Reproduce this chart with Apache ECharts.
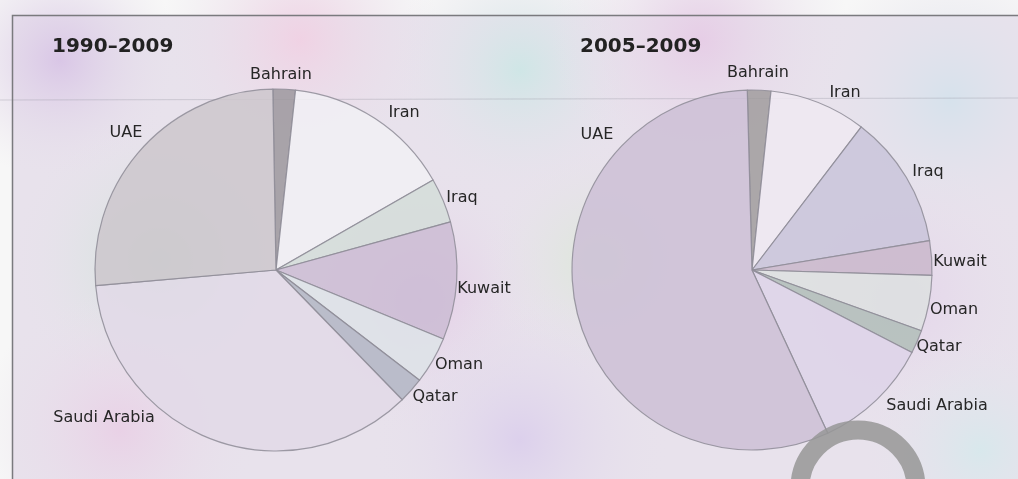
<!DOCTYPE html>
<html>
<head>
<meta charset="utf-8">
<script src="https://cdn.jsdelivr.net/npm/echarts@6/dist/echarts.min.js"></script>
<style>
html,body{margin:0;padding:0;background:#f7f7f7;}
#chart{width:1018px;height:479px;}
</style>
</head>
<body>
<div id="chart"></div>
<script>
// Countries (clockwise from 12 o'clock)
const countries = ['Bahrain', 'Iran', 'Iraq', 'Kuwait', 'Oman', 'Qatar', 'Saudi Arabia', 'UAE'];
// Shares (%)
const share1990_2009 = [2.0, 15.0, 4.0, 10.5, 4.2, 2.3, 35.9, 26.1];
const share2005_2009 = [2.1, 8.7, 12.0, 3.1, 5.0, 2.1, 10.5, 56.5];
const titles = ['1990–2009', '2005–2009'];

// styling (not data)
const colorsLeft  = ['#9c989e', '#f1f0f4', '#d3ddd9', '#cbbcd4', '#dde3e8', '#b2b6c4', '#e2d9e8', '#cdc7cc'];
const colorsRight = ['#a09c9e', '#efe9f2', '#c9c4da', '#c9b7cb', '#dde1e0', '#b0bdb8', '#ddd4e9', '#cdbfd6'];
const labelPosLeft = {
  'Bahrain': [281, 75], 'Iran': [404, 113], 'Iraq': [462, 198], 'Kuwait': [484, 289],
  'Oman': [459, 365], 'Qatar': [435, 397], 'Saudi Arabia': [104, 418], 'UAE': [126, 133]
};
const labelPosRight = {
  'Bahrain': [758, 73], 'Iran': [845, 93], 'Iraq': [928, 172], 'Kuwait': [960, 262],
  'Oman': [954, 310], 'Qatar': [939, 347], 'Saudi Arabia': [937, 406], 'UAE': [597, 135]
};

function makeData(values, colors) {
  return countries.map((c, i) => ({ name: c, value: values[i], itemStyle: { color: colors[i] } }));
}

function pieSeries(values, colors, center, radius, startAngle, labelPos) {
  return {
    type: 'pie',
    center: center,
    radius: radius,
    startAngle: startAngle,
    clockwise: true,
    silent: true,
    z: 2,
    itemStyle: { borderColor: '#8e8c96', borderWidth: 1.2, opacity: 0.85 },
    label: {
      show: true,
      position: 'outside',
      alignTo: 'none',
      overflow: 'none',
      width: 200,
      opacity: 1,
      color: '#262626',
      fontFamily: 'DejaVu Sans',
      fontSize: 16
    },
    labelLine: { show: false },
    labelLayout: function (p) {
      const pos = labelPos[countries[p.dataIndex]];
      return { x: pos[0], y: pos[1], align: 'center', verticalAlign: 'middle', hideOverlap: false, width: 200 };
    },
    data: makeData(values, colors)
  };
}

const chart = echarts.init(document.getElementById('chart'), null, { renderer: 'canvas' });

const blobs = [
  [60, 60, 120, '#d9c6e6'], [300, 40, 140, '#f0d2e4'], [520, 70, 130, '#cfe6e6'],
  [700, 40, 150, '#e6cde6'], [950, 100, 140, '#d6e2ec'], [160, 260, 150, '#cfe4d8'],
  [420, 300, 140, '#e4cbe6'], [600, 260, 120, '#dce8d8'], [900, 300, 150, '#e4d4ea'],
  [120, 430, 140, '#e9d1e6'], [520, 440, 150, '#dcd0ec'], [980, 450, 120, '#d8e8ec']
];

const option = {
  backgroundColor: '#f7f7f7',
  animation: false,
  title: [
    { text: titles[0], left: 52, top: 37, padding: 0,
      textStyle: { fontFamily: 'DejaVu Sans', fontWeight: 'bold', fontSize: 20, color: '#222' } },
    { text: titles[1], left: 580, top: 37, padding: 0,
      textStyle: { fontFamily: 'DejaVu Sans', fontWeight: 'bold', fontSize: 20, color: '#222' } }
  ],
  graphic: {
    elements: [
      { type: 'rect', silent: true, z: -20, shape: { x: 12, y: 15, width: 1010, height: 470 },
        style: { fill: '#e8e2ec', stroke: null } }
    ].concat(blobs.map(b => ({
      type: 'circle', silent: true, z: -19, shape: { cx: b[0], cy: b[1], r: b[2] },
      style: {
        fill: { type: 'radial', x: 0.5, y: 0.5, r: 0.5,
          colorStops: [{ offset: 0, color: b[3] }, { offset: 1, color: 'rgba(232,226,236,0)' }] }
      }
    }))).concat([
      { type: 'line', silent: true, z: -18, shape: { x1: 0, y1: 100, x2: 1018, y2: 98 },
        style: { stroke: 'rgba(150,150,160,0.35)', lineWidth: 1 } },
      { type: 'rect', silent: true, z: 50, shape: { x: 12.5, y: 15.5, width: 1020, height: 480 },
        style: { fill: null, stroke: '#7a7a7e', lineWidth: 1.5 } },
      { type: 'arc', silent: true, z: 60,
        shape: { cx: 858, cy: 488, r: 58, startAngle: Math.PI * 1.0, endAngle: Math.PI * 2.1 },
        style: { stroke: 'rgba(150,150,150,0.85)', lineWidth: 19, fill: null } }
    ])
  },
  series: [
    pieSeries(share1990_2009, colorsLeft, [276, 270], 181, 91, labelPosLeft),
    pieSeries(share2005_2009, colorsRight, [752, 270], 180, 91.5, labelPosRight)
  ]
};

chart.setOption(option);
</script>
</body>
</html>
